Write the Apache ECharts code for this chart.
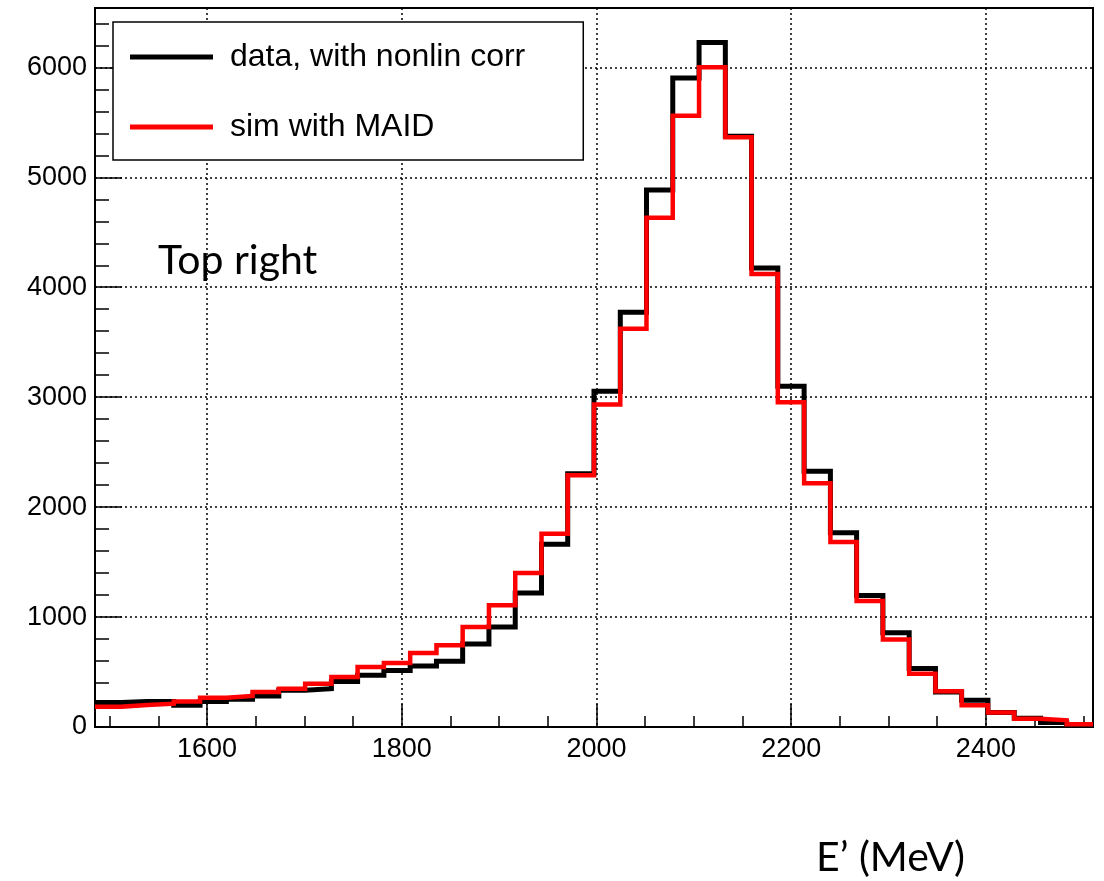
<!DOCTYPE html>
<html><head><meta charset="utf-8">
<script src="https://cdn.jsdelivr.net/npm/echarts@6/dist/echarts.min.js"></script>
<style>html,body{margin:0;padding:0;background:#fff}#c{width:1104px;height:881px}</style>
</head><body><div id="c"></div>
<script>
// Histogram bin edges (MeV), 38 bins
const binEdges = [1485.0,1512.0,1538.9,1565.9,1592.9,1619.9,1646.8,1673.8,1700.8,1727.8,
  1754.7,1781.7,1808.7,1835.7,1862.6,1889.6,1916.6,1943.6,1970.5,1997.5,
  2024.5,2051.4,2078.4,2105.4,2132.4,2159.3,2186.3,2213.3,2240.3,2267.2,
  2294.2,2321.2,2348.2,2375.1,2402.1,2429.1,2456.1,2483.0,2510.0];
// counts per bin
const dataCounts = [222,233,233,197,233,252,282,334,349,415,
  470,515,555,597,755,910,1218,1663,2303,3055,
  3773,4885,5903,6227,5373,4176,3100,2327,1767,1197,
  858,531,318,243,131,79,40,15];
const simCounts = [185,200,212,232,267,282,318,349,394,455,
  545,582,673,743,909,1108,1400,1758,2290,2934,
  3622,4631,5561,6000,5364,4121,2955,2218,1682,1145,
  795,485,325,197,133,76,61,25];
const seriesNames = ['data, with nonlin corr', 'sim with MAID'];
const xMajorTicks = [1600,1800,2000,2200,2400];
const xMinorTicks = [1500,1550,1650,1700,1750,1850,1900,1950,2050,2100,2150,2250,2300,2350,2450,2500];
const yMajorTicks = [0,1000,2000,3000,4000,5000,6000];
const yMinorTicks = [200,400,600,800,1200,1400,1600,1800,2200,2400,2600,2800,3200,3400,3600,3800,
  4200,4400,4600,4800,5200,5400,5600,5800,6200,6400];
const xRange = [1485, 2510];
const yRange = [0, 6540];

function stepPoints(counts){
  const pts = [];
  counts.forEach((v,i)=>{ pts.push([binEdges[i], v]); pts.push([binEdges[i+1], v]); });
  return pts;
}

const chart = echarts.init(document.getElementById('c'), null, {renderer:'canvas'});
const tickLine = {color:'#000', width:1.5};
const labelFont = {color:'#000', fontFamily:'Liberation Sans', fontSize:27, formatter:(v)=>String(v)};
chart.setOption({
  animation:false,
  backgroundColor:'#fff',
  grid:{left:95, right:11, top:8, bottom:154, show:true, borderColor:'#000', borderWidth:2, backgroundColor:'transparent'},
  xAxis:[
    {type:'value', min:xRange[0], max:xRange[1], position:'bottom',
     axisLine:{show:true, onZero:false, lineStyle:{color:'#000', width:2}},
     axisTick:{show:true, inside:true, length:23, customValues:xMajorTicks, lineStyle:tickLine},
     axisLabel:Object.assign({customValues:xMajorTicks, margin:9}, labelFont),
     splitLine:{show:true, lineStyle:{color:'#000', width:1.5, type:[2,3]}},
     minorTick:{show:false}},
    {type:'value', min:xRange[0], max:xRange[1], position:'bottom',
     axisLine:{show:false, onZero:false},
     axisTick:{show:true, inside:true, length:11, customValues:xMinorTicks, lineStyle:tickLine},
     axisLabel:{show:false}, splitLine:{show:false}}
  ],
  yAxis:[
    {type:'value', min:yRange[0], max:yRange[1], position:'left',
     axisLine:{show:true, onZero:false, lineStyle:{color:'#000', width:2}},
     axisTick:{show:true, inside:true, length:27, customValues:yMajorTicks, lineStyle:tickLine},
     axisLabel:Object.assign({customValues:yMajorTicks, margin:8}, labelFont),
     splitLine:{show:true, lineStyle:{color:'#000', width:1.5, type:[2,3]}}},
    {type:'value', min:yRange[0], max:yRange[1], position:'left',
     axisLine:{show:false, onZero:false},
     axisTick:{show:true, inside:true, length:14, customValues:yMinorTicks, lineStyle:tickLine},
     axisLabel:{show:false}, splitLine:{show:false}}
  ],
  legend:{
    show:true, left:113, top:22, orient:'vertical',
    padding:[19,58,17,17], itemGap:38, itemWidth:83, itemHeight:5,
    borderColor:'#000', borderWidth:1.5, backgroundColor:'#fff',
    textStyle:{fontFamily:'Liberation Sans', fontSize:32, color:'#000', lineHeight:32, padding:[0,0,0,12]},
    data:[{name:seriesNames[0], icon:'rect', itemStyle:{color:'#000'}},
          {name:seriesNames[1], icon:'rect', itemStyle:{color:'#ff0000'}}]
  },
  graphic:[
    {type:'text', x:158, y:261, style:{text:'Top right', font:'41px Lato', fill:'#000', verticalAlign:'middle'}},
    {type:'text', x:816, y:858, style:{text:'E\u2019 (MeV)', font:'41px Lato', fill:'#000', verticalAlign:'middle'}}
  ],
  series:[
    {name:seriesNames[0], type:'line', xAxisIndex:0, yAxisIndex:0, data:stepPoints(dataCounts),
     showSymbol:false, symbol:'none', lineStyle:{color:'#000', width:5, join:'miter'}, itemStyle:{color:'#000'}, clip:true, z:3},
    {name:seriesNames[1], type:'line', xAxisIndex:0, yAxisIndex:0, data:stepPoints(simCounts),
     showSymbol:false, symbol:'none', lineStyle:{color:'#ff0000', width:4.5, join:'miter'}, itemStyle:{color:'#ff0000'}, clip:true, z:4}
  ]
});
</script>
</body></html>
